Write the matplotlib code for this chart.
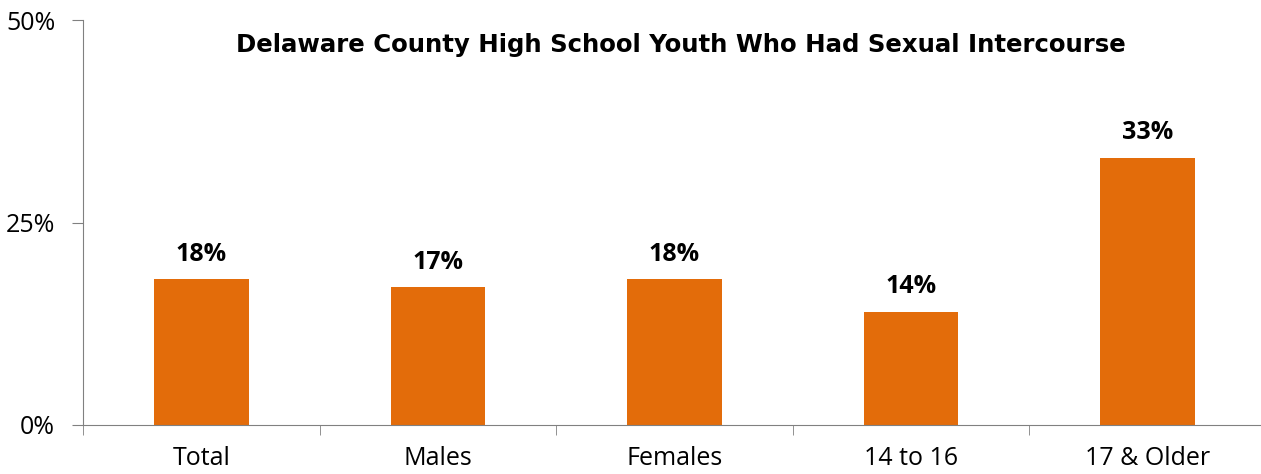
import matplotlib.pyplot as plt
from matplotlib.ticker import FuncFormatter

# data
groups = ['Total', 'Males', 'Females', '14 to 16', '17 & Older']
pct = [18, 17, 18, 14, 33]

plt.rcParams['font.family'] = ['Open Sans', 'DejaVu Sans']

fig = plt.figure(figsize=(12.61, 4.74), dpi=100)
ax = fig.add_axes([83 / 1261, 1 - 425 / 474, 1183 / 1261, 405 / 474])

x = range(len(groups))
ax.bar(x, pct, width=0.4, color='#E36C0A', zorder=2)

for i, v in zip(x, pct):
    ax.annotate('%d%%' % v, (i, v), xytext=(0, 9), textcoords='offset points',
                ha='center', va='bottom', fontsize=18, fontweight='bold')

ax.set_ylim(0, 50)
ax.set_xlim(-0.5, len(groups) - 0.5)
ax.set_yticks([0, 25, 50])
ax.yaxis.set_major_formatter(FuncFormatter(lambda v, p: '%d%%' % v))
ax.set_xticks(list(x))
ax.set_xticklabels(groups)
ax.set_xticks([i + 0.5 for i in range(-1, len(groups))], minor=True)

ax.tick_params(axis='y', labelsize=18, length=8, color='#808080', pad=12)
ax.tick_params(axis='x', which='major', labelsize=18, length=0, pad=15)
ax.tick_params(axis='x', which='minor', length=7, color='#808080')

for s in ['top', 'right']:
    ax.spines[s].set_visible(False)
ax.spines['left'].set_color('#808080')
ax.spines['bottom'].set_color('#808080')

fig.text(0.54, 1 - 45 / 474, 'Delaware County High School Youth Who Had Sexual Intercourse',
         ha='center', va='center', fontsize=17.6, fontweight='bold', family='DejaVu Sans')

fig.savefig('out.png', dpi=100)
